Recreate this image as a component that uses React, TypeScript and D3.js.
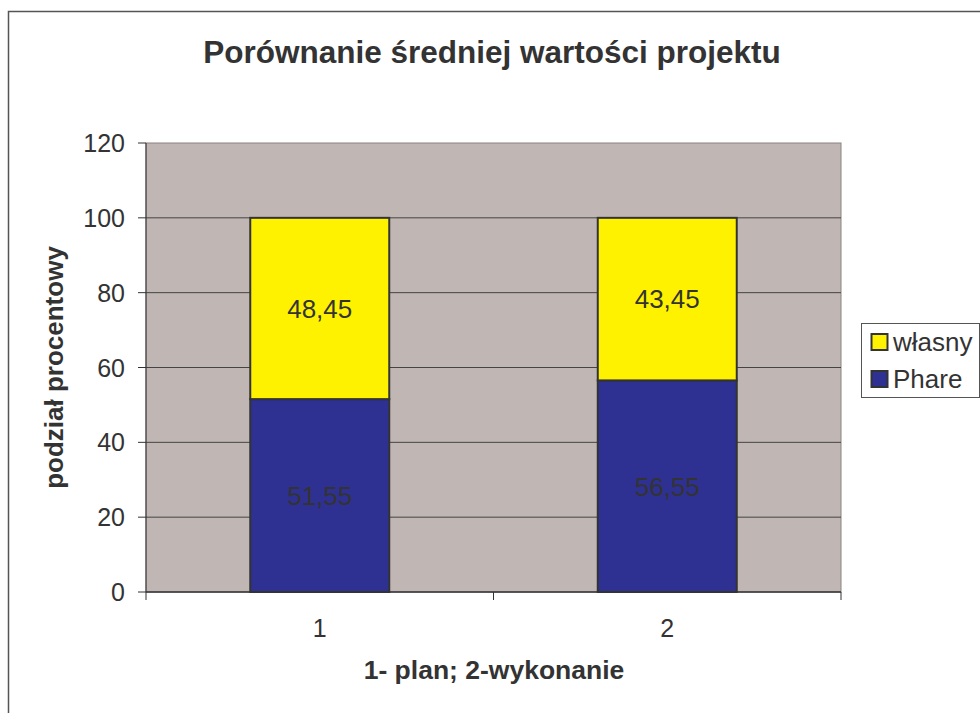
import * as d3 from "d3";
import React from "react";

const categories = ["1", "2"];
const phare = [51.55, 56.55];
const wlasny = [48.45, 43.45];
const yTicks = [0, 20, 40, 60, 80, 100, 120];

const W = 980;
const H = 713;
const plot = { left: 146, top: 143, right: 841, bottom: 592 };

const App: React.FC = () => {
  const x = d3.scaleBand<string>()
    .domain(categories)
    .range([plot.left, plot.right])
    .paddingInner(0.6)
    .paddingOuter(0.3);
  const y = d3.scaleLinear().domain([0, 120]).range([plot.bottom, plot.top]);

  const stacked = d3.stack<any>().keys(["phare", "wlasny"])(
    categories.map((c, i) => ({ cat: c, phare: phare[i], wlasny: wlasny[i] }))
  );
  const colors: Record<string, string> = { phare: "#2E3192", wlasny: "#FFF200" };
  const fmt = (v: number) => v.toFixed(2).replace(".", ",");
  const bw = x.bandwidth();
  const step = (plot.right - plot.left) / categories.length;

  return (
    <svg width={W} height={H} style={{ position: "absolute", left: 0, top: 0 }}
      fontFamily="Arial, 'Liberation Sans', sans-serif">
      <rect x={0} y={0} width={W} height={H} fill="#fff" />
      <rect x={8.5} y={11.5} width={W + 20} height={H + 20} fill="none" stroke="#555" strokeWidth={1.5} />
      <text x={492} y={63} textAnchor="middle" fontSize={31.5} fontWeight="bold" fill="#333">
        Porównanie średniej wartości projektu
      </text>

      <rect x={plot.left} y={plot.top} width={plot.right - plot.left} height={plot.bottom - plot.top}
        fill="#C0B7B4" stroke="#8a8280" />
      {yTicks.map(t => (
        <g key={t}>
          {t > 0 && t < 120 && (
            <line x1={plot.left} x2={plot.right} y1={y(t)} y2={y(t)} stroke="#444" strokeWidth={1} />
          )}
          <line x1={plot.left - 8} x2={plot.left} y1={y(t)} y2={y(t)} stroke="#333" />
          <text x={plot.left - 21} y={y(t)} dy="0.36em" textAnchor="end" fontSize={25} fill="#333">{t}</text>
        </g>
      ))}
      <line x1={plot.left} x2={plot.left} y1={plot.top} y2={plot.bottom} stroke="#333" />
      <line x1={plot.left} x2={plot.right} y1={plot.bottom} y2={plot.bottom} stroke="#333" strokeWidth={1.5} />
      {d3.range(categories.length + 1).map(i => (
        <line key={i} x1={plot.left + i * step} x2={plot.left + i * step} y1={plot.bottom} y2={plot.bottom + 8} stroke="#333" />
      ))}

      {stacked.map(s => (
        <g key={s.key}>
          {s.map((d, i) => {
            const x0 = x(categories[i])!;
            return (
              <g key={i}>
                <rect x={x0} y={y(d[1])} width={bw} height={y(d[0]) - y(d[1])}
                  fill={colors[s.key]} stroke="#333" strokeWidth={2} />
                <text x={x0 + bw / 2} y={(y(d[0]) + y(d[1])) / 2} dy="0.36em" textAnchor="middle"
                  fontSize={26} fill="#333">
                  {fmt(d[1] - d[0])}
                </text>
              </g>
            );
          })}
        </g>
      ))}

      {categories.map(c => (
        <text key={c} x={x(c)! + bw / 2} y={637} textAnchor="middle" fontSize={25} fill="#333">{c}</text>
      ))}
      <text x={494} y={679} textAnchor="middle" fontSize={26.5} fontWeight="bold" fill="#333">
        1- plan; 2-wykonanie
      </text>
      <text transform={`translate(63,${(plot.top + plot.bottom) / 2}) rotate(-90)`} textAnchor="middle"
        fontSize={26} fontWeight="bold" fill="#333">
        podział procentowy
      </text>

      <rect x={861.5} y={323.5} width={118} height={74} fill="#fff" stroke="#555" />
      {[{ k: "wlasny", label: "własny", yy: 342 }, { k: "phare", label: "Phare", yy: 379 }].map(l => (
        <g key={l.k}>
          <rect x={871.5} y={l.yy - 8} width={16} height={16} fill={colors[l.k]} stroke="#333" strokeWidth={2} />
          <text x={893} y={l.yy + 9} fontSize={26} fill="#333">{l.label}</text>
        </g>
      ))}
    </svg>
  );
};

export default App;
